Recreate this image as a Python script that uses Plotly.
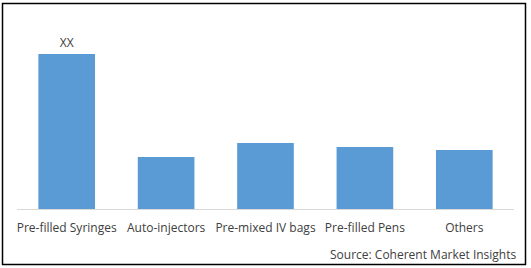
import plotly.graph_objects as go

categories = ["Pre-filled Syringes", "Auto-injectors", "Pre-mixed IV bags", "Pre-filled Pens", "Others"]
values = [15.5, 5.2, 6.6, 6.2, 5.9]
bar_labels = ["XX", "", "", "", ""]
source_text = "Source: Coherent Market Insights"

W, H = 531, 268
L, R, T, B = 17, 17, 20, 59
pw, ph = W - L - R, H - T - B

def px_x(p):
    return (p - L) / pw

def px_y(p):
    return (H - B - p) / ph

fig = go.Figure(go.Bar(
    x=categories, y=values,
    marker=dict(color="#5B9BD5", line=dict(width=0)),
    text=bar_labels, textposition="outside",
    textfont=dict(family="Open Sans", size=12, color="#404040"),
    cliponaxis=False, hoverinfo="skip",
))

fig.update_layout(
    width=W, height=H,
    margin=dict(l=L, r=R, t=T, b=B),
    paper_bgcolor="white", plot_bgcolor="white",
    bargap=0.43, showlegend=False,
    xaxis=dict(showline=True, linecolor="#D9D9D9", linewidth=1, ticks="",
               tickfont=dict(family="Open Sans", size=12, color="#404040"),
               ticklabelstandoff=8, showgrid=False, zeroline=False),
    yaxis=dict(range=[0, 18.9], visible=False, showgrid=False, zeroline=False),
    shapes=[dict(type="rect", xref="paper", yref="paper",
                 x0=px_x(2.5), x1=px_x(525.5), y0=px_y(264.5), y1=px_y(3.5),
                 line=dict(color="black", width=1.5), layer="above")],
    annotations=[dict(text=source_text, xref="paper", yref="paper",
                      x=px_x(519), y=px_y(255), xanchor="right", yanchor="middle",
                      showarrow=False,
                      font=dict(family="Open Sans", size=12, color="#404040"))],
)

fig.write_html("out.html")
